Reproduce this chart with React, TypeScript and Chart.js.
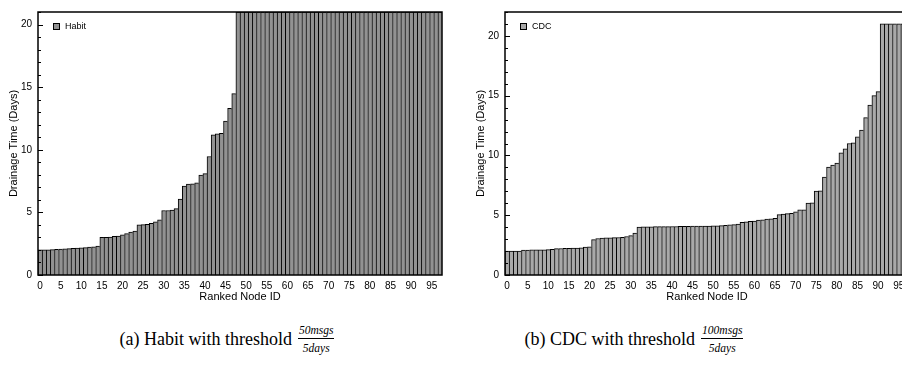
import React, { useEffect, useRef } from "react";
import { Chart, registerables } from "chart.js";

Chart.register(...registerables);

// ---------- data ----------
const rankedNodeIds = [
  0, 1, 2, 3, 4, 5, 6, 7, 8, 9, 10, 11, 12, 13, 14, 15, 16, 17, 18, 19,
  20, 21, 22, 23, 24, 25, 26, 27, 28, 29, 30, 31, 32, 33, 34, 35, 36, 37, 38, 39,
  40, 41, 42, 43, 44, 45, 46, 47, 48, 49, 50, 51, 52, 53, 54, 55, 56, 57, 58, 59,
  60, 61, 62, 63, 64, 65, 66, 67, 68, 69, 70, 71, 72, 73, 74, 75, 76, 77, 78, 79,
  80, 81, 82, 83, 84, 85, 86, 87, 88, 89, 90, 91, 92, 93, 94, 95, 96, 97,
];

const habitDays = [
  2.0, 2.0, 2.01, 2.02, 2.05, 2.06, 2.08, 2.1, 2.12, 2.14,
  2.16, 2.18, 2.22, 2.24, 2.3, 3.0, 3.0, 3.02, 3.08, 3.1,
  3.2, 3.3, 3.42, 3.5, 4.0, 4.02, 4.05, 4.12, 4.25, 4.4,
  5.15, 5.15, 5.18, 5.3, 6.07, 7.1, 7.25, 7.27, 7.35, 7.97,
  8.1, 9.46, 11.19, 11.28, 11.32, 12.29, 13.3, 14.48, 21, 21,
  21, 21, 21, 21, 21, 21, 21, 21, 21, 21,
  21, 21, 21, 21, 21, 21, 21, 21, 21, 21,
  21, 21, 21, 21, 21, 21, 21, 21, 21, 21,
  21, 21, 21, 21, 21, 21, 21, 21, 21, 21,
  21, 21, 21, 21, 21, 21, 21, 21,
];

const cdcDays = [
  2.0, 2.0, 2.0, 2.01, 2.08, 2.09, 2.1, 2.1, 2.1, 2.11,
  2.12, 2.14, 2.2, 2.22, 2.23, 2.24, 2.25, 2.26, 2.27, 2.33,
  2.36, 2.96, 3.05, 3.08, 3.1, 3.1, 3.12, 3.14, 3.15, 3.22,
  3.3, 3.5, 4.0, 4.02, 4.03, 4.03, 4.04, 4.04, 4.05, 4.05,
  4.06, 4.06, 4.07, 4.08, 4.08, 4.09, 4.09, 4.1, 4.1, 4.1,
  4.11, 4.12, 4.13, 4.15, 4.2, 4.22, 4.25, 4.4, 4.45, 4.48,
  4.5, 4.6, 4.62, 4.68, 4.7, 4.75, 5.05, 5.1, 5.13, 5.15,
  5.29, 5.45, 5.46, 6.02, 6.04, 7.02, 7.04, 8.2, 9.02, 9.19,
  9.36, 10.23, 10.56, 11.0, 11.05, 11.55, 12.13, 13.17, 14.21, 15.0,
  15.34, 21, 21, 21, 21, 21, 21, 21,
];

const yTickValues = [0, 5, 10, 15, 20];
const xTickEvery = 5;

const yTitle = "Drainage Time (Days)";
const xTitle = "Ranked Node ID";

const captionA = { text: "(a) Habit with threshold", num: "50msgs", den: "5days" };
const captionB = { text: "(b) CDC with threshold", num: "100msgs", den: "5days" };

// ---------- chart ----------
const SANS = '"Liberation Sans", Arial, Helvetica, sans-serif';

const framePlugin = {
  id: "frameTicksLegend",
  afterDatasetsDraw(chart: any) {
    const { ctx, chartArea: a, scales } = chart;
    const y = scales.y;
    ctx.save();
    ctx.strokeStyle = "#000";
    // inward ticks on the y axis (major every 5, minor every 1)
    ctx.lineWidth = 1;
    for (let v = Math.ceil(y.min); v <= Math.floor(y.max); v++) {
      const py = Math.round(y.getPixelForValue(v)) + 0.5;
      const len = v % 5 === 0 ? 5 : 3;
      ctx.beginPath();
      ctx.moveTo(a.left, py);
      ctx.lineTo(a.left + len, py);
      ctx.stroke();
    }
    // frame
    ctx.lineWidth = 1.5;
    ctx.strokeRect(a.left, a.top, a.right - a.left, a.bottom - a.top);
    // legend
    const ds = chart.data.datasets[0];
    const sx = a.left + 15;
    const sy = a.top + 11;
    ctx.fillStyle = ds.backgroundColor;
    ctx.fillRect(sx, sy, 6, 6);
    ctx.lineWidth = 1;
    ctx.strokeRect(sx + 0.5, sy + 0.5, 6, 6);
    ctx.fillStyle = "#000";
    ctx.font = `9px ${SANS}`;
    ctx.textBaseline = "middle";
    ctx.textAlign = "left";
    ctx.fillText(ds.label, sx + 12, sy + 3.5);
    ctx.restore();
  },
};

function BarChart({ label, values, max, color }: { label: string; values: number[]; max: number; color: string }) {
  const ref = useRef<HTMLCanvasElement>(null);
  useEffect(() => {
    const chart = new Chart(ref.current as HTMLCanvasElement, {
      type: "bar",
      data: {
        labels: rankedNodeIds.map(String),
        datasets: [
          {
            label,
            data: values,
            backgroundColor: color,
            borderColor: "#000",
            borderWidth: { left: 1, top: 1, right: 0, bottom: 0 } as any,
            borderSkipped: false as any,
            categoryPercentage: 1,
            barPercentage: 1,
          },
        ],
      },
      options: {
        responsive: false,
        animation: false,
        devicePixelRatio: 1,
        layout: { padding: { top: 7, right: 25, left: 0, bottom: 0 } },
        plugins: { legend: { display: false }, tooltip: { enabled: false } },
        scales: {
          x: {
            grid: { display: false, drawTicks: false },
            border: { display: false },
            ticks: {
              autoSkip: false,
              maxRotation: 0,
              minRotation: 0,
              padding: 5,
              color: "#000",
              font: { family: SANS, size: 10 },
              callback: function (this: any, val: any, idx: number) {
                return idx % xTickEvery === 0 ? this.getLabelForValue(val) : null;
              },
            },
            title: {
              display: true,
              text: xTitle,
              color: "#000",
              font: { family: SANS, size: 11 },
              padding: { top: 0, bottom: 1.5 },
            },
            afterFit(scale: any) {
              scale.height = 30;
            },
          },
          y: {
            min: 0,
            max,
            grid: { display: false, drawTicks: false },
            border: { display: false },
            ticks: {
              stepSize: 5,
              padding: 6,
              color: "#000",
              font: { family: SANS, size: 10 },
            },
            afterBuildTicks(scale: any) {
              scale.ticks = yTickValues.map((v) => ({ value: v }));
            },
            title: {
              display: true,
              text: yTitle,
              color: "#000",
              font: { family: SANS, size: 11 },
              padding: { top: 7, bottom: 0 },
            },
            afterFit(scale: any) {
              scale.width = 38;
            },
          },
        },
      },
      plugins: [framePlugin],
    });
    return () => chart.destroy();
  }, [label, values, max, color]);
  return <canvas ref={ref} width={467} height={305} style={{ width: 467, height: 305, display: "block" }} />;
}

function Caption({ left, width, cap }: { left: number; width: number; cap: { text: string; num: string; den: string } }) {
  return (
    <div
      style={{
        position: "absolute",
        left,
        top: 320,
        width,
        height: 38,
        display: "flex",
        alignItems: "center",
        justifyContent: "center",
        fontFamily: '"Liberation Serif", "Times New Roman", serif',
        fontSize: 18,
        color: "#000",
        whiteSpace: "nowrap",
      }}
    >
      <span>{cap.text}</span>
      <span
        style={{
          display: "inline-flex",
          flexDirection: "column",
          alignItems: "center",
          marginLeft: 6,
          fontStyle: "italic",
          fontSize: 11.5,
        }}
      >
        <span style={{ padding: "0 1px 2px", borderBottom: "1px solid #000", lineHeight: "12px" }}>{cap.num}</span>
        <span style={{ paddingTop: 3, lineHeight: "12px" }}>{cap.den}</span>
      </span>
    </div>
  );
}

export default function App() {
  return (
    <div
      style={{
        position: "fixed",
        left: 0,
        top: 0,
        width: 902,
        height: 375,
        overflow: "hidden",
        background: "#fff",
      }}
    >
      <div style={{ position: "absolute", left: 0, top: 0 }}>
        <BarChart label="Habit" values={habitDays} max={21} color="#929292" />
      </div>
      <div style={{ position: "absolute", left: 467, top: 0 }}>
        <BarChart label="CDC" values={cdcDays} max={22} color="#a9a9a9" />
      </div>
      <Caption left={0} width={454} cap={captionA} />
      <Caption left={420} width={428} cap={captionB} />
    </div>
  );
}
